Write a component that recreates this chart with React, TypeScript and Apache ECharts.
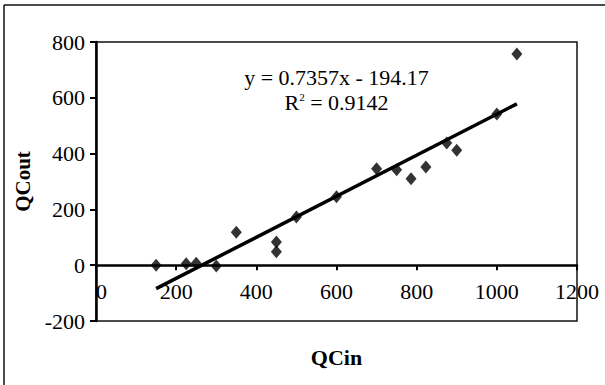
import React, { useEffect, useRef } from "react";
import * as echarts from "echarts";

const qcIn = [150, 225, 250, 300, 350, 450, 450, 500, 600, 700, 750, 786, 823, 875, 900, 1000, 1050];
const qcOut = [0, 5, 7, -3, 118, 83, 48, 173, 245, 346, 342, 310, 352, 438, 412, 542, 757];
const slope = 0.7357;
const intercept = -194.17;
const trendX = [150, 1050];
const xTicks = { min: 0, max: 1200, interval: 200 };
const yTicks = { min: -200, max: 800, interval: 200 };
const equationText = "y = 0.7357x - 194.17";
const r2Value = "0.9142";

const FONT = "'Liberation Serif', 'Times New Roman', serif";
const W = 605;
const H = 385;
const GRID = { left: 96, right: 28, top: 42, bottom: 64 };

export default function App() {
  const ref = useRef<HTMLDivElement>(null);
  useEffect(() => {
    const chart = echarts.init(ref.current!, undefined, { renderer: "svg" });
    const points = qcIn.map((x, i) => [x, qcOut[i]]);
    const trend = trendX.map((x) => [x, slope * x + intercept]);
    const gridH = H - GRID.top - GRID.bottom;
    const zeroOffset = -gridH * (0 - yTicks.min) / (yTicks.max - yTicks.min);
    const plotCenterX = GRID.left + (W - GRID.left - GRID.right) / 2;
    chart.setOption({
      animation: false,
      backgroundColor: "#fff",
      grid: {
        ...GRID,
        show: true,
        borderColor: "#111",
        borderWidth: 1.5,
      },
      xAxis: {
        type: "value",
        min: xTicks.min,
        max: xTicks.max,
        interval: xTicks.interval,
        offset: zeroOffset,
        axisLine: { onZero: false, lineStyle: { color: "#000", width: 2.5 } },
        axisTick: { show: true, inside: false, length: 5, lineStyle: { color: "#000", width: 2 } },
        axisLabel: {
          color: "#000",
          fontFamily: FONT,
          fontSize: 22,
          margin: 15,
          alignMinLabel: "left",
          formatter: (v: number) => String(v),
        },
        splitLine: { show: false },
      },
      yAxis: {
        type: "value",
        min: yTicks.min,
        max: yTicks.max,
        interval: yTicks.interval,
        axisLine: { show: true, onZero: false, lineStyle: { color: "#000", width: 2.5 } },
        axisTick: { show: true, inside: false, length: 6, lineStyle: { color: "#000", width: 2 } },
        axisLabel: { color: "#000", fontFamily: FONT, fontSize: 22, margin: 11 },
        splitLine: { show: false },
        name: "QCout",
        nameLocation: "middle",
        nameGap: 55,
        nameRotate: 90,
        nameTextStyle: { color: "#000", fontFamily: FONT, fontSize: 21, fontWeight: "bold" },
      },
      graphic: [
        { type: "line", shape: { x1: 4, y1: 5, x2: W, y2: 5 }, style: { stroke: "#111", lineWidth: 1.5 } },
        { type: "line", shape: { x1: 4, y1: 5, x2: 4, y2: H }, style: { stroke: "#111", lineWidth: 1.5 } },
        {
          type: "text",
          x: plotCenterX,
          y: 357,
          style: {
            text: "QCin",
            fill: "#000",
            font: "bold 22px " + FONT,
            textAlign: "center",
            textVerticalAlign: "middle",
          },
        },
        {
          type: "text",
          x: plotCenterX,
          y: 77,
          style: {
            text: equationText,
            fill: "#000",
            font: "22px " + FONT,
            textAlign: "center",
            textVerticalAlign: "middle",
          },
        },
        {
          type: "text",
          x: plotCenterX,
          y: 102,
          style: {
            text: "{n|R}{s|2}{n| = " + r2Value + "}",
            fill: "#000",
            textAlign: "center",
            textVerticalAlign: "middle",
            rich: {
              n: { fontFamily: FONT, fontSize: 22, color: "#000" },
              s: { fontFamily: FONT, fontSize: 11, color: "#000", verticalAlign: "top", padding: [0, 0, 10, 0] },
            },
          },
        },
      ],
      series: [
        {
          type: "line",
          data: trend,
          symbol: "none",
          lineStyle: { color: "#000", width: 3.5 },
          z: 2,
        },
        {
          type: "scatter",
          data: points,
          symbol: "diamond",
          symbolSize: [11, 13],
          itemStyle: { color: "#000" },
          z: 3,
        },
      ],
    });
    return () => chart.dispose();
  }, []);
  return (
    <div
      ref={ref}
      style={{ position: "absolute", left: 0, top: 0, width: W, height: H, background: "#fff" }}
    />
  );
}
